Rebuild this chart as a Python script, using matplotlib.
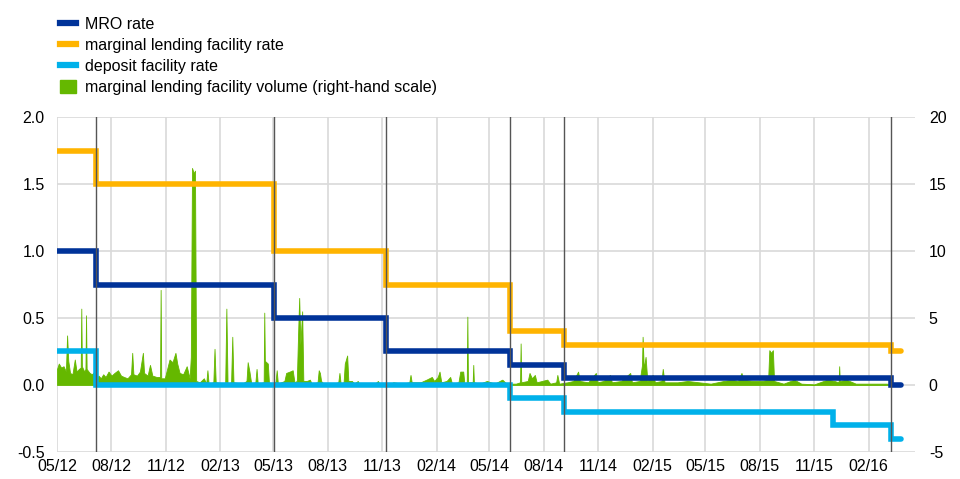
import pandas as pd
import matplotlib
matplotlib.use("Agg")
import matplotlib.pyplot as plt
import matplotlib.dates as mdates
from matplotlib.lines import Line2D
from matplotlib.patches import Patch

plt.rcParams['font.family'] = ['Liberation Sans', 'DejaVu Sans']
plt.rcParams['axes.unicode_minus'] = False

# key ECB rates (%), step changes
rate_dates = ["2012-05-01", "2012-07-05", "2013-05-02", "2013-11-07", "2014-06-05",
              "2014-09-04", "2015-12-03", "2016-03-10", "2016-03-26"]
mro_rate = [1.00, 0.75, 0.50, 0.25, 0.15, 0.05, 0.05, 0.00, 0.00]
mlf_rate = [1.75, 1.50, 1.00, 0.75, 0.40, 0.30, 0.30, 0.25, 0.25]
dep_rate = [0.25, 0.00, 0.00, 0.00, -0.10, -0.20, -0.30, -0.40, -0.40]

# announcement dates (vertical lines)
decision_dates = ["2012-07-05", "2013-05-02", "2013-11-07", "2014-06-05", "2014-09-04", "2016-03-10"]

# marginal lending facility volume (EUR bn, right-hand scale)
vol_dates = [
    "2012-05-01", "2012-05-04", "2012-05-08", "2012-05-12", "2012-05-16", "2012-05-18", "2012-05-20",
    "2012-05-23", "2012-05-27", "2012-05-31", "2012-06-03", "2012-06-07", "2012-06-10", "2012-06-11",
    "2012-06-12", "2012-06-16", "2012-06-18", "2012-06-19", "2012-06-20", "2012-06-25", "2012-06-29",
    "2012-07-03", "2012-07-06", "2012-07-10", "2012-07-14", "2012-07-18", "2012-07-22", "2012-07-27",
    "2012-08-01", "2012-08-06", "2012-08-12", "2012-08-17", "2012-08-22", "2012-08-28", "2012-09-03",
    "2012-09-05", "2012-09-07", "2012-09-13", "2012-09-18", "2012-09-23", "2012-09-25", "2012-10-01",
    "2012-10-05", "2012-10-09", "2012-10-16", "2012-10-22", "2012-10-23", "2012-10-24", "2012-10-30",
    "2012-11-03", "2012-11-07", "2012-11-12", "2012-11-17", "2012-11-20", "2012-11-24", "2012-11-30",
    "2012-12-06", "2012-12-11", "2012-12-13", "2012-12-15", "2012-12-18", "2012-12-20", "2012-12-22",
    "2012-12-28", "2013-01-04", "2013-01-08", "2013-01-10", "2013-01-12", "2013-01-20", "2013-01-22",
    "2013-01-24", "2013-02-09", "2013-02-11", "2013-02-13", "2013-02-19", "2013-02-21", "2013-02-23",
    "2013-03-10", "2013-03-17", "2013-03-19", "2013-03-22", "2013-03-25", "2013-04-01", "2013-04-03",
    "2013-04-05", "2013-04-15", "2013-04-16", "2013-04-17", "2013-04-22", "2013-04-24", "2013-05-05",
    "2013-05-07", "2013-05-09", "2013-05-20", "2013-05-23", "2013-05-29", "2013-06-03", "2013-06-06",
    "2013-06-10", "2013-06-12", "2013-06-14", "2013-06-16", "2013-06-19", "2013-06-21", "2013-06-27",
    "2013-07-02", "2013-07-05", "2013-07-15", "2013-07-17", "2013-07-19", "2013-07-21", "2013-07-25",
    "2013-08-10", "2013-08-19", "2013-08-21", "2013-08-23", "2013-08-28", "2013-08-30", "2013-09-03",
    "2013-09-05", "2013-09-11", "2013-09-15", "2013-09-21", "2013-09-23", "2013-10-20", "2013-10-25",
    "2013-10-28", "2013-11-15", "2013-11-20", "2013-12-05", "2013-12-17", "2013-12-19", "2013-12-21",
    "2014-01-05", "2014-01-15", "2014-01-24", "2014-01-28", "2014-02-03", "2014-02-06", "2014-02-09",
    "2014-02-18", "2014-02-24", "2014-02-27", "2014-03-10", "2014-03-13", "2014-03-18", "2014-03-20",
    "2014-03-24", "2014-03-25", "2014-03-26", "2014-04-03", "2014-04-04", "2014-04-05", "2014-04-15",
    "2014-04-27", "2014-05-10", "2014-05-23", "2014-05-30", "2014-06-15", "2014-06-22", "2014-06-23",
    "2014-06-24", "2014-07-05", "2014-07-08", "2014-07-12", "2014-07-17", "2014-07-20", "2014-08-07",
    "2014-08-12", "2014-08-22", "2014-08-24", "2014-08-27", "2014-09-10", "2014-09-20", "2014-09-28",
    "2014-10-01", "2014-10-15", "2014-10-28", "2014-10-31", "2014-11-10", "2014-11-21", "2014-11-24",
    "2014-12-10", "2014-12-25", "2014-12-28", "2015-01-10", "2015-01-14", "2015-01-15", "2015-01-17",
    "2015-01-20", "2015-01-23", "2015-02-01", "2015-02-05", "2015-02-16", "2015-02-18", "2015-02-21",
    "2015-03-15", "2015-04-01", "2015-04-20", "2015-05-10", "2015-06-01", "2015-06-15", "2015-06-25",
    "2015-07-01", "2015-07-04", "2015-07-20", "2015-08-05", "2015-08-15", "2015-08-17", "2015-08-20",
    "2015-08-23", "2015-08-25", "2015-09-10", "2015-09-28", "2015-10-10", "2015-11-01", "2015-11-23",
    "2015-12-05", "2015-12-12", "2015-12-13", "2015-12-14", "2015-12-25", "2016-01-10", "2016-02-10",
    "2016-03-01", "2016-03-20",
]
vol_values = [
    1.2, 1.6, 1.3, 1.4, 1.0, 3.7, 1.8,
    0.9, 0.8, 1.9, 1.0, 1.2, 1.3, 5.7,
    1.4, 1.0, 1.2, 5.2, 1.2, 0.9, 0.8,
    1.0, 0.2, 0.7, 0.5, 0.8, 0.6, 1.0,
    0.7, 0.9, 1.1, 0.7, 0.6, 0.5, 0.8,
    2.4, 0.8, 0.7, 1.0, 2.4, 0.9, 0.7,
    1.5, 0.7, 0.6, 0.6, 7.1, 0.5, 0.5,
    1.2, 1.9, 1.7, 2.4, 1.6, 0.9, 0.8,
    1.4, 0.5, 2.1, 16.2, 15.8, 16.0, 0.3,
    0.2, 0.5, 0.1, 1.1, 0.1, 0.2, 2.7,
    0.2, 0.1, 5.7, 0.1, 0.2, 3.6, 0.2,
    0.1, 0.3, 1.7, 1.0, 0.1, 0.2, 1.2,
    0.1, 0.2, 5.4, 1.8, 1.6, 0.1, 0.2,
    1.1, 0.1, 0.3, 0.9, 1.0, 1.1, 0.2,
    0.3, 3.6, 6.5, 3.0, 5.5, 0.3, 0.3,
    0.4, 0.1, 0.2, 1.1, 0.9, 0.3, 0.1,
    0.1, 0.2, 0.9, 0.1, 0.2, 1.6, 2.2,
    0.3, 0.3, 0.1, 0.3, 0.1, 0.1, 0.3,
    0.05, 0.1, 0.2, 0.1, 0.2, 0.75, 0.2,
    0.2, 0.4, 0.6, 0.3, 0.6, 1.0, 0.2,
    0.3, 0.6, 0.1, 0.2, 1.0, 1.0, 0.1,
    0.2, 5.1, 0.2, 0.2, 1.5, 0.2, 0.1,
    0.3, 0.1, 0.4, 0.1, 0.1, 0.2, 3.1,
    0.2, 0.3, 0.9, 0.5, 0.75, 0.2, 0.4,
    0.1, 0.2, 0.75, 0.1, 0.2, 0.3, 1.0,
    0.3, 0.2, 0.9, 0.2, 0.3, 0.75, 0.2,
    0.3, 0.9, 0.2, 0.3, 1.5, 3.6, 1.2,
    2.1, 0.3, 0.75, 0.2, 0.3, 1.2, 0.2,
    0.2, 0.3, 0.2, 0.1, 0.3, 0.4, 0.3,
    0.9, 0.4, 0.3, 0.3, 0.4, 2.6, 2.4,
    2.6, 0.3, 0.1, 0.4, 0.1, 0.05, 0.4,
    0.3, 0.2, 1.4, 0.3, 0.4, 0.1, 0.1,
    0.1, 0.05,
]

legend_labels = ["MRO rate", "marginal lending facility rate", "deposit facility rate",
                 "marginal lending facility volume (right-hand scale)"]

c_mro = "#003399"
c_mlf = "#FFB400"
c_dep = "#00B1EA"
c_vol = "#65B800"
c_grid = "#d9d9d9"

rd = pd.to_datetime(rate_dates)
vd = pd.to_datetime(vol_dates)

fig = plt.figure(figsize=(9.6, 4.79), dpi=100)
ax2 = fig.add_axes([0.0594, 0.0564, 0.8937, 0.6993])
ax = ax2.twinx()
ax.set_zorder(ax2.get_zorder() + 1)
ax.patch.set_visible(False)

# volume on the right-hand scale, drawn underneath
ax2.fill_between(vd, 0, vol_values, color=c_vol, lw=0.6, edgecolor=c_vol)
ax2.set_ylim(-5, 20)
ax2.set_yticks([-5, 0, 5, 10, 15, 20])
ax2.grid(True, color=c_grid, lw=1.2)
ax2.set_axisbelow(True)
ax2.yaxis.tick_right()
ax2.yaxis.set_label_position("right")

# rates on the left-hand scale
kw = dict(drawstyle="steps-post", lw=4.0, solid_capstyle="round", solid_joinstyle="miter")
ax.plot(rd, mlf_rate, color=c_mlf, **kw)
ax.plot(rd, mro_rate, color=c_mro, **kw)
ax.plot(rd, dep_rate, color=c_dep, **kw)
for d in decision_dates:
    ax.axvline(pd.Timestamp(d), color="#555555", lw=1.0)

ax.set_ylim(-0.5, 2.0)
ax.set_yticks([-0.5, 0.0, 0.5, 1.0, 1.5, 2.0])
ax.yaxis.tick_left()
ax.yaxis.set_major_formatter(plt.FuncFormatter(lambda v, p: f"{v:.1f}"))

ax2.set_xlim(pd.Timestamp("2012-05-01"), pd.Timestamp("2016-04-19"))
ax2.xaxis.set_major_locator(mdates.MonthLocator(bymonth=[2, 5, 8, 11]))
ax2.xaxis.set_major_formatter(mdates.DateFormatter("%m/%y"))

for a in (ax, ax2):
    a.tick_params(length=0, labelsize=11.5, colors="#000000")
    for s in a.spines.values():
        s.set_visible(False)
ax.tick_params(axis="y", pad=9)
ax2.tick_params(axis="y", pad=10)
ax2.tick_params(axis="x", pad=5)

handles = [
    Line2D([0], [0], color=c_mro, lw=4.5),
    Line2D([0], [0], color=c_mlf, lw=4.5),
    Line2D([0], [0], color=c_dep, lw=4.5),
    Patch(facecolor=c_vol, edgecolor=c_vol),
]
fig.legend(handles, legend_labels, loc="upper left", bbox_to_anchor=(0.056, 0.979),
           frameon=False, fontsize=11.5, handlelength=1.0, handleheight=0.9,
           handletextpad=0.55, labelspacing=0.37, borderaxespad=0.0)

fig.savefig("out.png", dpi=100)
